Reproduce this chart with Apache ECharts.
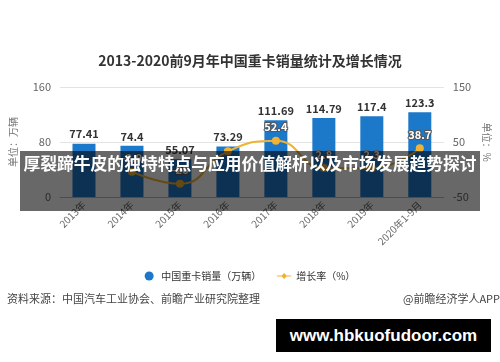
<!DOCTYPE html>
<html><head><meta charset="utf-8">
<script src="https://cdn.jsdelivr.net/npm/echarts@6/dist/echarts.min.js"></script>
<style>
html,body{margin:0;padding:0;background:#fff;}
#wrap{position:relative;width:500px;height:362px;overflow:hidden;}
#chart{position:absolute;left:0;top:0;width:500px;height:362px;}
#bannerBg{position:absolute;left:20px;top:151px;width:460px;height:60px;background:rgb(104,104,104);mix-blend-mode:multiply;}
#bannerTx{position:absolute;left:20px;top:151px;width:460px;height:60px;line-height:60px;text-align:center;color:#fff;font:bold 16.8px "Noto Sans CJK SC",sans-serif;white-space:nowrap;letter-spacing:0;}
#wm{position:absolute;left:276px;top:319px;width:215px;height:33px;background:#000;color:#fff;font:bold 17px "Liberation Sans",Arial,sans-serif;line-height:33px;text-align:center;}
</style></head>
<body><div id="wrap"><div id="chart"></div><div id="bannerBg"></div><div id="bannerTx">厚裂蹄牛皮的独特特点与应用价值解析以及市场发展趋势探讨</div><div id="wm">www.hbkuofudoor.com</div></div>
<script>
var categories = ['2013年','2014年','2015年','2016年','2017年','2018年','2019年','2020年1-9月'];
var salesValues = [77.41, 74.4, 55.07, 73.29, 111.69, 114.79, 117.4, 123.3];
var growthValues = ['-', -3.9, -26, 33, 52.4, 2.8, 2.3, 38.7];
var leftTicks = {min: 0, max: 160, interval: 80};
var rightTicks = {min: -50, max: 150, interval: 100};
var salesName = '中国重卡销量（万辆）';
var growthName = '增长率（%）';

var F = '"Noto Sans CJK SC", sans-serif';
var chart = echarts.init(document.getElementById('chart'), null, {renderer: 'canvas'});
var growthData = growthValues.map(function (v, i) {
  if (i === 3) return {value: v, label: {show: false}};
  return v;
});
chart.setOption({
  animation: false,
  title: {
    text: '2013-2020前9月年中国重卡销量统计及增长情况',
    left: 'center', top: 49,
    textStyle: {fontFamily: F, fontSize: 14, fontWeight: 'bold', color: '#333'}
  },
  legend: {
    left: 'center', top: 266, itemGap: 16, itemWidth: 14, itemHeight: 9,
    textStyle: {fontFamily: F, fontSize: 10, color: '#333'},
    data: [
      {name: salesName, icon: 'circle'},
      {name: growthName, icon: 'path://M0,4.4H4.6L7,2L9.4,4.4H14V5.6H9.4L7,8L4.6,5.6H0Z'}
    ]
  },
  grid: {left: 58, right: 54, top: 87, bottom: 165},
  xAxis: {
    type: 'category', data: categories,
    axisLine: {lineStyle: {color: '#bbb'}},
    axisTick: {alignWithLabel: true, length: 5, lineStyle: {color: '#999'}},
    axisLabel: {rotate: 45, fontFamily: F, fontSize: 10, color: '#666', margin: 6}
  },
  yAxis: [
    {
      type: 'value', min: leftTicks.min, max: leftTicks.max, interval: leftTicks.interval,
      name: '单位：万辆', nameLocation: 'middle', nameRotate: 90, nameGap: 42,
      nameTextStyle: {fontFamily: F, fontSize: 10, color: '#777'},
      axisLine: {show: false}, axisTick: {show: false},
      axisLabel: {fontFamily: F, fontSize: 11, color: '#666', margin: 9},
      splitLine: {lineStyle: {color: '#e3e3e3'}}
    },
    {
      type: 'value', min: rightTicks.min, max: rightTicks.max, interval: rightTicks.interval,
      name: '单位：%', nameLocation: 'middle', nameRotate: -90, nameGap: 36,
      nameTextStyle: {fontFamily: F, fontSize: 10, color: '#777'},
      axisLine: {show: false}, axisTick: {show: false},
      axisLabel: {fontFamily: F, fontSize: 11, color: '#666', margin: 9},
      splitLine: {show: false}
    }
  ],
  series: [
    {
      name: salesName, type: 'bar', data: salesValues, barWidth: 23,
      itemStyle: {color: '#1c78c9'},
      label: {show: true, position: 'top', distance: 4, fontFamily: F, fontSize: 11, fontWeight: 'bold', color: '#333'}
    },
    {
      name: growthName, type: 'line', yAxisIndex: 1, data: growthData, smooth: true,
      symbol: 'circle', symbolSize: 8,
      itemStyle: {color: '#f0b232'}, lineStyle: {color: '#f0b232', width: 2},
      label: {show: true, position: 'top', distance: 4, fontFamily: F, fontSize: 11, fontWeight: 'bold',
        color: '#fff', textBorderColor: '#555', textBorderWidth: 2}
    }
  ],
  graphic: [
    {type: 'text', left: 7, top: 293, style: {text: '资料来源：中国汽车工业协会、前瞻产业研究院整理', fontFamily: F, fontSize: 11, fill: '#444'}},
    {type: 'text', right: 0, top: 293, style: {text: '@前瞻经济学人APP', fontFamily: F, fontSize: 11, fill: '#444'}}
  ]
});
</script></body></html>
